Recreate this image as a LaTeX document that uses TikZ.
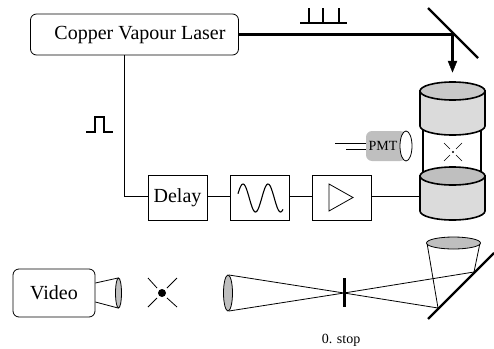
\documentclass[tikz,border=0pt]{standalone}
\usepackage{fontspec}
\setmainfont{Liberation Serif}
\tikzset{
  roundbox/.style={draw,rounded corners=6pt,line width=0.8pt,inner sep=0pt},
  unitbox/.style={draw,line width=0.8pt,inner sep=0pt,minimum width=59pt,minimum height=45pt},
  wire/.style={line width=0.8pt},
  pulse/.style={line width=1.1pt},
  beam/.style={line width=3pt},
  bigtext/.style={font=\fontsize{20}{24}\selectfont},
  smalltext/.style={font=\fontsize{14}{17}\selectfont},
}
\begin{document}
\begin{tikzpicture}[x=1pt,y=-1pt]
\useasboundingbox (0,0) rectangle (494,348);
\node[roundbox,minimum width=208pt,minimum height=41pt] (laser) at (134.5,34.5) {};
\node[bigtext] (lasertext) at (140,35) {Copper Vapour Laser};
\node[unitbox,bigtext] (delay) at (177.5,197.5) {Delay};
\node[unitbox] (filter) at (259.5,197.5) {};
\node[unitbox] (amp) at (341.5,197.5) {};
\node[roundbox,minimum width=82pt,minimum height=48pt,bigtext] (video) at (54,293) {Video};
\node[smalltext] (stoptext) at (341,340) {0. stop};

\coordinate (mirror) at (453,34);
\coordinate (mirrortop) at (428,8);
\coordinate (mirrorend) at (478,58);
\coordinate (corner) at (124,196);
\coordinate (lower) at (420,196);
\coordinate (target) at (452.5,72);

% laser beam and mirror
\draw[beam] (laser.east |- mirror) -- (mirror);
\draw[line width=2.2pt] (mirrortop) -- (mirrorend);
\draw[beam] (452.5,34) -- (452.5,62);
\draw[fill=black,line width=0.4pt] (448,61) -- (457,61) -- (target) -- cycle;

% pulses
\draw[pulse] (300,23) -- (347,23) (309,23) -- (309,8) (323,23) -- (323,8) (339,23) -- (339,8);
\draw[pulse] (86,132) -- (95,132) -- (95,117) -- (104,117) -- (104,132) -- (113,132);

% signal path
\draw[wire] (laser.south -| corner) -- (corner) -- (delay.west |- corner);
\draw[wire] (delay.east |- corner) -- (filter.west |- corner);
\draw[wire] (filter.east |- corner) -- (amp.west |- corner);
\draw[wire] (amp.east |- corner) -- (lower);
\draw[pulse] plot[domain=238:283,samples=60,smooth] (\x,{198-14*cos((\x-243)*14.4)});
\draw[wire] (329,184) -- (353,197.5) -- (329,211) -- cycle;

% chamber
\draw[line width=2pt] (423,128) -- (423,172) (481,128) -- (481,172);
\draw[fill=gray!28,line width=1.6pt] (420,91) -- (420,126) arc[start angle=180,end angle=360,x radius=32.5,y radius=-9] -- (485,91) -- cycle;
\draw[fill=gray!42,line width=1.6pt] (452.5,91) ellipse[x radius=32.5,y radius=9];
\draw[fill=gray!28,line width=1.6pt] (420,176) -- (420,211) arc[start angle=180,end angle=360,x radius=32.5,y radius=-9] -- (485,176) -- cycle;
\draw[fill=gray!50,line width=1.6pt] (452.5,176) ellipse[x radius=32.5,y radius=9];
\fill (453,152) circle[radius=1.2];
\draw[line width=0.6pt] (444,143) -- (450,149) (462,143) -- (456,149) (444,161) -- (450,155) (462,161) -- (456,155);

% pmt
\fill[gray!50,rounded corners=6pt] (366,131) rectangle (406,161);
\draw[fill=white,line width=0.8pt] (406,146) ellipse[x radius=6,y radius=15];
\node[smalltext,inner sep=0pt] (pmt) at (383,146) {PMT};
\draw[wire] (335,143) -- (366,143);
\draw[wire] (346,149) -- (366,149);

% camera and object
\coordinate (lens) at (118.5,293);
\draw[wire] (video.east |- 0,283) -- (118,278);
\draw[wire] (video.east |- 0,302) -- (118,308);
\draw[fill=gray!50,line width=0.8pt] (lens) ellipse[x radius=3,y radius=15];
\fill (162,293) circle[radius=4];
\draw[wire] (148,278) -- (157,288) (177,278) -- (167,288) (148,307) -- (157,298) (177,307) -- (167,298);

% imaging path
\coordinate (stop) at (344,293);
\coordinate (upper) at (474,272);
\coordinate (under) at (438,308);
\draw[wire] (229,275) -- (stop) -- (under);
\draw[wire] (229,311) -- (stop) -- (upper);
\draw[fill=gray!50,line width=0.8pt] (228,293) ellipse[x radius=4.5,y radius=18];
\draw[line width=3pt] (344,278) -- (344,307);
\draw[line width=2.2pt] (428,319) -- (494,253);
\draw[wire] (427,243) -- (under);
\draw[wire] (480,243) -- (upper);
\draw[fill=gray!50,line width=0.8pt] (453.5,243) ellipse[x radius=27,y radius=6];
\end{tikzpicture}
\end{document}
